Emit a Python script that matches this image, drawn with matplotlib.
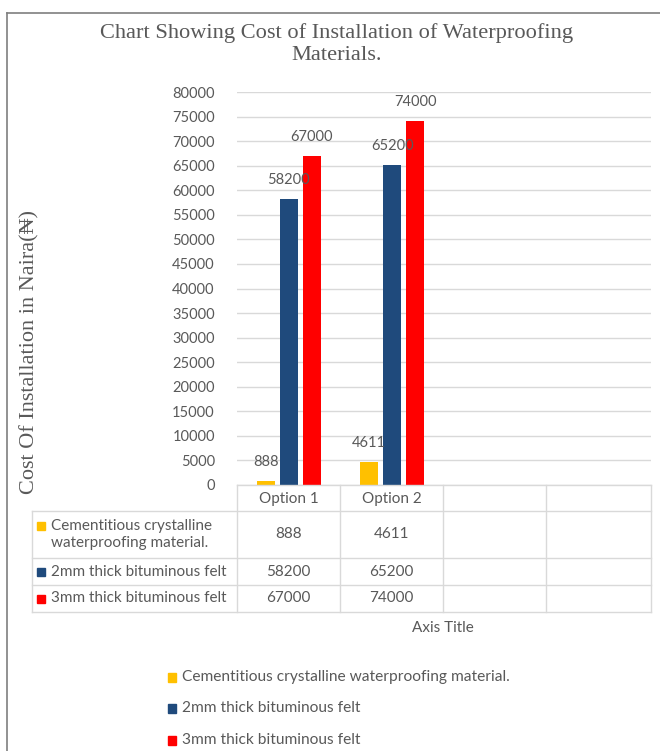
import matplotlib
matplotlib.use('Agg')
import matplotlib.pyplot as plt
from matplotlib.patches import Rectangle
from matplotlib.lines import Line2D

categories = ['Option 1', 'Option 2', '', '']
series_names = ['Cementitious crystalline waterproofing material.',
                '2mm thick bituminous felt',
                '3mm thick bituminous felt']
table_names = [['Cementitious crystalline', 'waterproofing material.'],
               ['2mm thick bituminous felt'],
               ['3mm thick bituminous felt']]
cementitious = [888, 4611]
felt_2mm = [58200, 65200]
felt_3mm = [67000, 74000]
values = [cementitious, felt_2mm, felt_3mm]
colors = ['#FFC000', '#1F4A7C', '#FF0000']
yticks = list(range(0, 80001, 5000))

W, H = 660, 751
grey = '#595959'
line_grey = '#d9d9d9'
sans = 'Lato'
fs = 10.5
fs_table = 11
fs_legend = 11.2
serif = ['Liberation Serif', 'DejaVu Serif']

fig = plt.figure(figsize=(W / 100, H / 100), dpi=100)


def fx(px):
    return px / W


def fy(py):
    return 1 - py / H


# chart border (top and left)
fig.add_artist(Line2D([fx(7), fx(660)], [fy(13), fy(13)], color='#7f7f7f', lw=1.2))
fig.add_artist(Line2D([fx(7), fx(7)], [fy(13), fy(751)], color='#7f7f7f', lw=1.2))

# plot area
ax = fig.add_axes([fx(237), fy(485), fx(651) - fx(237), fy(92) - fy(485)])
ax.set_xlim(-0.5, len(categories) - 0.5)
ax.set_ylim(0, 80000)
ax.set_yticks(yticks)
ax.set_yticklabels([str(v) for v in yticks], fontsize=fs, color=grey, family=sans)
ax.tick_params(axis='y', length=0, pad=16)
ax.set_xticks([])
for s in ax.spines.values():
    s.set_visible(False)
ax.grid(axis='y', color=line_grey, lw=1)
ax.set_axisbelow(True)

bw = 0.175
step = 0.223
for k, vals in enumerate(values):
    xs = [i + (k - 1) * step for i in range(len(vals))]
    ax.bar(xs, vals, width=bw, color=colors[k])
    for x, v in zip(xs, vals):
        ax.annotate(str(v), (x, v), xytext=(0, 19), textcoords='offset pixels',
                    ha='center', va='center', fontsize=fs, color=grey, family=sans)

# title and y label
fig.text(fx(337), fy(44), 'Chart Showing Cost of Installation of Waterproofing\nMaterials.',
         ha='center', va='center', fontsize=16.1, color=grey,
         family=serif, linespacing=1.15)
fig.text(fx(30), fy(352), 'Cost Of Installation in Naira(₦)', rotation=90,
         ha='center', va='center', fontsize=16, color=grey, family=serif)

# data table
cols = [237, 340, 443, 546, 651]
rows = [485, 511, 558, 585, 612]


def hline(y, x0, x1):
    fig.add_artist(Line2D([fx(x0), fx(x1)], [fy(y), fy(y)], color=line_grey, lw=1))


def vline(x, y0, y1):
    fig.add_artist(Line2D([fx(x), fx(x)], [fy(y0), fy(y1)], color=line_grey, lw=1))


hline(rows[0], cols[0], cols[-1])
for y in rows[1:]:
    hline(y, 32, cols[-1])
for x in cols:
    vline(x, rows[0], rows[-1])
vline(32, rows[1], rows[-1])

for j, c in enumerate(categories):
    xc = (cols[j] + cols[j + 1]) / 2
    fig.text(fx(xc), fy((rows[0] + rows[1]) / 2 + 1), c, ha='center', va='center',
             fontsize=fs_table, color=grey, family=sans)

for k, vals in enumerate(values):
    yc = (rows[k + 1] + rows[k + 2]) / 2
    for j, v in enumerate(vals):
        xc = (cols[j] + cols[j + 1]) / 2
        fig.text(fx(xc), fy(yc), str(v), ha='center', va='center',
                 fontsize=fs_table, color=grey, family=sans)
    lines = table_names[k]
    n = len(lines)
    for m, t in enumerate(lines):
        ym = yc + (m - (n - 1) / 2) * 17
        fig.text(fx(51), fy(ym), t, ha='left', va='center',
                 fontsize=fs_table, color=grey, family=sans)
    ys = yc - (n - 1) / 2 * 17
    fig.add_artist(Rectangle((fx(37), fy(ys + 4)), fx(8), 8 / H,
                             transform=fig.transFigure, color=colors[k]))

fig.text(fx(443), fy(628), 'Axis Title', ha='center', va='center',
         fontsize=fs_table, color=grey, family=sans)

# legend
for k, name in enumerate(series_names):
    y = [677, 708, 740][k]
    fig.add_artist(Rectangle((fx(168), fy(y + 4.5)), fx(8), 9 / H,
                             transform=fig.transFigure, color=colors[k]))
    fig.text(fx(182), fy(y), name, ha='left', va='center',
             fontsize=fs_legend, color=grey, family=sans)

fig.savefig('out.png', dpi=100)
